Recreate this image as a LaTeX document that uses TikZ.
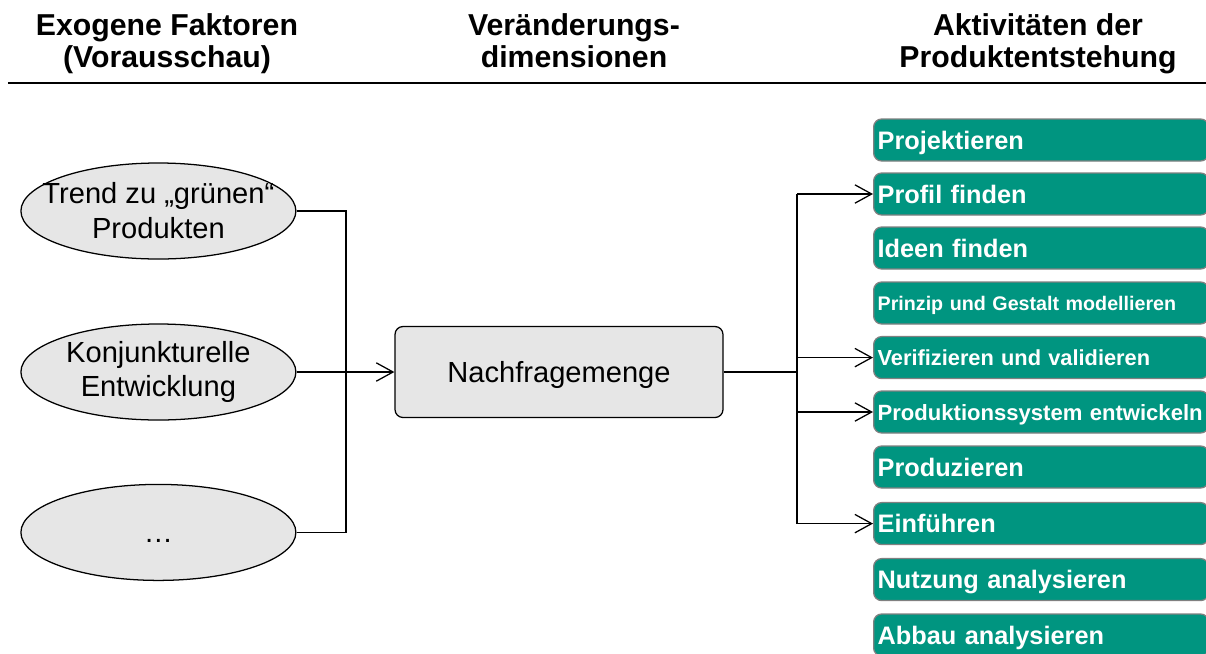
\documentclass[tikz,border=0pt]{standalone}
\usepackage{fontspec}
\setmainfont{Liberation Sans}
\usepackage{xcolor}
\usepackage{tikz}
\usetikzlibrary{arrows.meta,positioning,shapes.geometric}
\definecolor{pegreen}{RGB}{0,149,128}
\definecolor{pegray}{RGB}{230,230,230}
\definecolor{peframe}{RGB}{128,128,128}
\tikzset{
  pehead/.style={align=center, anchor=base, inner sep=0pt,
    font=\bfseries\fontsize{21.5}{22.7}\selectfont},
  pefactor/.style={ellipse, draw=black, fill=pegray, line width=0.9pt,
    minimum width=6.875cm, minimum height=2.4cm, inner sep=0pt, align=center,
    font=\fontsize{20.7}{24.8}\selectfont},
  pedim/.style={draw=black, fill=pegray, rounded corners=0.2cm, line width=0.9pt,
    minimum width=8.2cm, minimum height=2.275cm,
    text depth=0pt, font=\fontsize{20.7}{24.8}\selectfont},
  peact/.style={draw=peframe, fill=pegreen, rounded corners=0.2cm, line width=0.9pt,
    anchor=west, text=white, align=left, text width=8.175cm, inner xsep=0.1cm,
    minimum height=1.05cm, text depth=0pt,
    font=\bfseries\fontsize{18}{20}\selectfont},
  peline/.style={line width=0.9pt, draw=black},
  pearrow/.style={peline, -{Straight Barb[length=4.2mm, width=4.6mm, line width=0.9pt]}}
}
\begin{document}
\begin{tikzpicture}
  \useasboundingbox (0cm,0cm) rectangle (30.15cm,-16.325cm);
  % Kopfzeile
  \node[pehead] (hF) at (4.175cm,-1.675cm) {Exogene Faktoren\\(Vorausschau)};
  \node[pehead] (hV) at (14.35cm,-1.675cm) {Veränderungs-\\dimensionen};
  \node[pehead] (hA) at (25.95cm,-1.675cm) {Aktivitäten der\\Produktentstehung};
  \draw[line width=1.6pt] (0.2cm,-2.075cm) -- (30.15cm,-2.075cm);
  % Faktoren und Dimension
  \node[pefactor, inner xsep=-1cm] (fG) at (3.96cm,-5.275cm) {Trend zu „grünen“\\Produkten};
  \node[pefactor] (fK) at (3.96cm,-9.3cm) {Konjunkturelle\\Entwicklung};
  \node[pefactor, text height=14pt, text depth=0pt] (fX) at (3.96cm,-13.31cm) {…};
  \node[pedim] (mN) at (13.975cm,-9.3cm) {Nachfragemenge};
  \coordinate (jL) at (8.65cm,-9.3cm);
  \coordinate (jR) at (19.925cm,-9.3cm);
  % Aktivitäten
  \node[peact] (aP) at (21.825cm,-3.5cm) {Projektieren};
  \node[peact] (aF) at (21.825cm,-4.85cm) {Profil finden};
  \node[peact] (aI) at (21.825cm,-6.2cm) {Ideen finden};
  \node[peact, font=\bfseries\fontsize{14}{16}\selectfont] (aM) at (21.825cm,-7.575cm) {Prinzip und Gestalt modellieren};
  \node[peact, font=\bfseries\fontsize{15.5}{18}\selectfont] (aV) at (21.825cm,-8.94cm) {Verifizieren und validieren};
  \node[peact, font=\bfseries\fontsize{15.7}{18}\selectfont] (aS) at (21.825cm,-10.3cm) {Produktionssystem entwickeln};
  \node[peact] (aZ) at (21.825cm,-11.675cm) {Produzieren};
  \node[peact] (aE) at (21.825cm,-13.09cm) {Einführen};
  \node[peact] (aN) at (21.825cm,-14.49cm) {Nutzung analysieren};
  \node[peact] (aB) at (21.825cm,-15.875cm) {Abbau analysieren};
  % Verbindungen
  \draw[peline] (fG.east) -| (jL);
  \draw[peline] (fX.east) -| (jL);
  \draw[pearrow] (fK.east) -- (mN.west);
  \draw[peline, line width=1.3pt] (mN.east) -- (jR);
  \draw[peline] (aF.west -| jR) -- (aE.west -| jR);
  \draw[pearrow] (aF.west -| jR) -- (aF.west);
  \draw[pearrow] (aV.west -| jR) -- (aV.west);
  \draw[pearrow] (aS.west -| jR) -- (aS.west);
  \draw[pearrow] (aE.west -| jR) -- (aE.west);
\end{tikzpicture}
\end{document}
